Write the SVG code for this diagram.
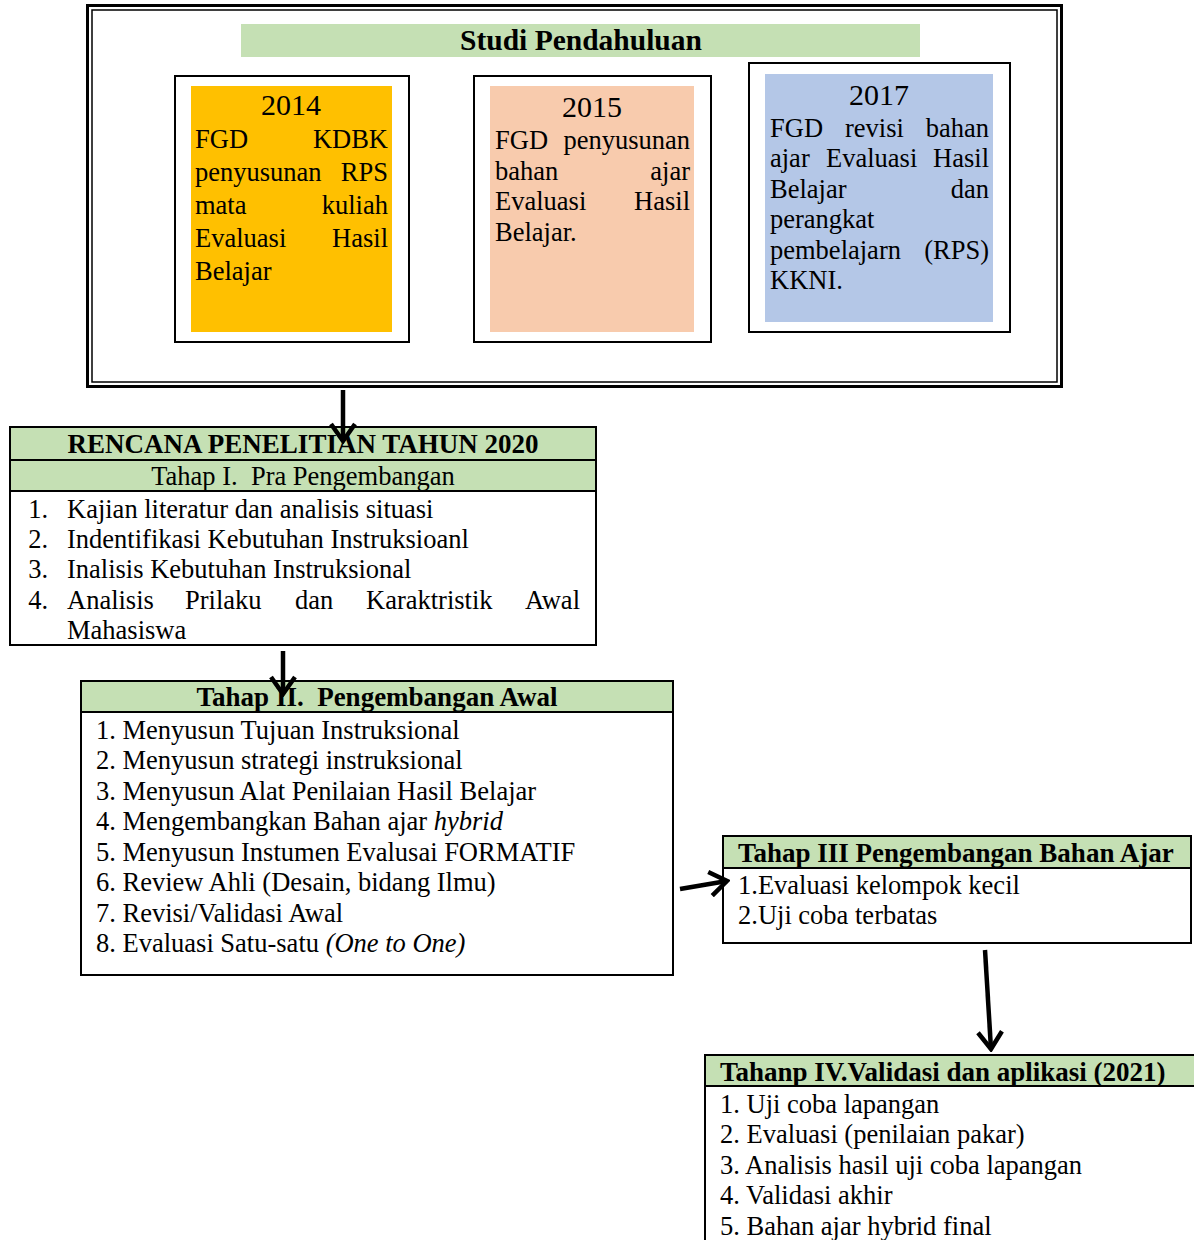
<svg xmlns="http://www.w3.org/2000/svg" width="1194" height="1240" viewBox="0 0 1194 1240">
<defs>
<style>
text{font-family:"Liberation Serif","Times New Roman",serif;fill:#000}
.t{font-size:26.5px}
.b{font-size:27px;font-weight:bold}
.yr{font-size:30px}
.box{fill:#fff;stroke:#000;stroke-width:2}
.hdr{fill:#C5E0B4;stroke:#000;stroke-width:2}
.con{stroke:#000;stroke-width:4.5;fill:none;stroke-linecap:butt}
</style>
<marker id="ah" viewBox="0 0 22 28" refX="19" refY="14" markerWidth="22" markerHeight="28" markerUnits="userSpaceOnUse" orient="auto">
<path d="M2,2 L19,14 L2,26" fill="none" stroke="#000" stroke-width="4.5"/>
</marker>
</defs>
<rect width="1194" height="1240" fill="#fff"/>

<g id="studi">
<rect x="87.5" y="5.5" width="974" height="381" fill="#fff" stroke="#000" stroke-width="3"/>
<rect x="92" y="10" width="965" height="372" fill="none" stroke="#000" stroke-width="1.5"/>
<rect x="241" y="24" width="679" height="33" fill="#C5E0B4"/>
<text x="581" y="50" class="b" style="font-size:29.5px" text-anchor="middle">Studi Pendahuluan</text>
</g>

<g id="y2014">
<rect x="175" y="76" width="234" height="266" class="box"/>
<rect x="191" y="86" width="201" height="246" fill="#FFC000"/>
<text x="291" y="115" class="yr" text-anchor="middle">2014</text>
<text class="t" y="148"><tspan x="195">FGD</tspan><tspan x="388" text-anchor="end">KDBK</tspan></text>
<text class="t" y="181"><tspan x="195">penyusunan</tspan><tspan x="388" text-anchor="end">RPS</tspan></text>
<text class="t" y="214"><tspan x="195">mata</tspan><tspan x="388" text-anchor="end">kuliah</tspan></text>
<text class="t" y="247"><tspan x="195">Evaluasi</tspan><tspan x="388" text-anchor="end">Hasil</tspan></text>
<text class="t" y="280" x="195">Belajar</text>
</g>

<g id="y2015">
<rect x="474" y="76" width="237" height="266" class="box"/>
<rect x="490" y="86" width="204" height="246" fill="#F8CBAD"/>
<text x="592" y="117" class="yr" text-anchor="middle">2015</text>
<text class="t" y="149"><tspan x="495">FGD</tspan><tspan x="690" text-anchor="end">penyusunan</tspan></text>
<text class="t" y="180"><tspan x="495">bahan</tspan><tspan x="690" text-anchor="end">ajar</tspan></text>
<text class="t" y="210"><tspan x="495">Evaluasi</tspan><tspan x="690" text-anchor="end">Hasil</tspan></text>
<text class="t" y="241" x="495">Belajar.</text>
</g>

<g id="y2017">
<rect x="749" y="63" width="261" height="269" class="box"/>
<rect x="765" y="74" width="228" height="248" fill="#B4C7E7"/>
<text x="879" y="105" class="yr" text-anchor="middle">2017</text>
<text class="t" y="137"><tspan x="770">FGD</tspan><tspan x="845">revisi</tspan><tspan x="989" text-anchor="end">bahan</tspan></text>
<text class="t" y="167"><tspan x="770">ajar</tspan><tspan x="826">Evaluasi</tspan><tspan x="989" text-anchor="end">Hasil</tspan></text>
<text class="t" y="198"><tspan x="770">Belajar</tspan><tspan x="989" text-anchor="end">dan</tspan></text>
<text class="t" y="228" x="770">perangkat</text>
<text class="t" y="259"><tspan x="770">pembelajarn</tspan><tspan x="989" text-anchor="end">(RPS)</tspan></text>
<text class="t" y="289" x="770">KKNI.</text>
</g>

<g id="tahap1">
<rect x="10" y="427" width="586" height="218" class="box"/>
<rect x="10" y="427" width="586" height="33" class="hdr"/>
<rect x="10" y="460" width="586" height="31" class="hdr"/>
<text x="303" y="453" class="b" text-anchor="middle">RENCANA PENELITIAN TAHUN 2020</text>
<text x="303" y="485" class="t" text-anchor="middle" xml:space="preserve">Tahap I.  Pra Pengembangan</text>
<text class="t" y="518"><tspan x="48" text-anchor="end">1.</tspan><tspan x="67">Kajian literatur dan analisis situasi</tspan></text>
<text class="t" y="548"><tspan x="48" text-anchor="end">2.</tspan><tspan x="67">Indentifikasi Kebutuhan Instruksioanl</tspan></text>
<text class="t" y="578"><tspan x="48" text-anchor="end">3.</tspan><tspan x="67">Inalisis Kebutuhan Instruksional</tspan></text>
<text class="t" y="609"><tspan x="48" text-anchor="end">4.</tspan><tspan x="67">Analisis</tspan><tspan x="185">Prilaku</tspan><tspan x="295">dan</tspan><tspan x="366">Karaktristik</tspan><tspan x="580" text-anchor="end">Awal</tspan></text>
<text class="t" y="639" x="67">Mahasiswa</text>
</g>

<g id="tahap2">
<rect x="81" y="681" width="592" height="294" class="box"/>
<rect x="81" y="681" width="592" height="31" class="hdr"/>
<text x="377" y="706" class="b" text-anchor="middle" xml:space="preserve">Tahap II.  Pengembangan Awal</text>
<text class="t" x="96" y="739">1. Menyusun Tujuan Instruksional</text>
<text class="t" x="96" y="769">2. Menyusun strategi instruksional</text>
<text class="t" x="96" y="800">3. Menyusun Alat Penilaian Hasil Belajar</text>
<text class="t" x="96" y="830">4. Mengembangkan Bahan ajar <tspan font-style="italic">hybrid</tspan></text>
<text class="t" x="96" y="861">5. Menyusun Instumen Evalusai FORMATIF</text>
<text class="t" x="96" y="891">6. Review Ahli (Desain, bidang Ilmu)</text>
<text class="t" x="96" y="922">7. Revisi/Validasi Awal</text>
<text class="t" x="96" y="952">8. Evaluasi Satu-satu <tspan font-style="italic">(One to One)</tspan></text>
</g>

<g id="tahap3">
<rect x="723" y="836" width="468" height="107" class="box"/>
<rect x="723" y="836" width="468" height="32" class="hdr"/>
<text x="738" y="862" class="b">Tahap III Pengembangan Bahan Ajar</text>
<text class="t" x="738" y="894">1.Evaluasi kelompok kecil</text>
<text class="t" x="738" y="924">2.Uji coba terbatas</text>
</g>

<g id="tahap4">
<rect x="705" y="1055" width="492" height="200" class="box"/>
<rect x="705" y="1055" width="492" height="31" class="hdr"/>
<text x="720" y="1081" class="b">Tahanp IV.Validasi dan aplikasi (2021)</text>
<text class="t" x="720" y="1113">1. Uji coba lapangan</text>
<text class="t" x="720" y="1143">2. Evaluasi (penilaian pakar)</text>
<text class="t" x="720" y="1174">3. Analisis hasil uji coba lapangan</text>
<text class="t" x="720" y="1204">4. Validasi akhir</text>
<text class="t" x="720" y="1235">5. Bahan ajar hybrid final</text>
</g>

<g id="connectors">
<line x1="343" y1="390" x2="343" y2="441" class="con" marker-end="url(#ah)"/>
<line x1="283" y1="651" x2="283" y2="694" class="con" marker-end="url(#ah)"/>
<line x1="680" y1="889" x2="727" y2="881" class="con" marker-end="url(#ah)"/>
<line x1="985" y1="950" x2="991" y2="1049" class="con" marker-end="url(#ah)"/>
</g>
</svg>
